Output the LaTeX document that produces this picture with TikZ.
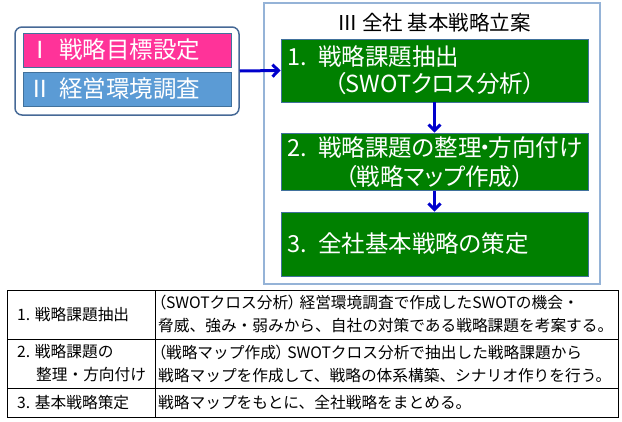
\documentclass[tikz,border=0pt]{standalone}
\usepackage{fontspec}
\setmainfont{Noto Sans CJK JP}
\newfontfamily\pjp{Noto Sans CJK JP}[CharacterWidth=AlternateProportional]
\usetikzlibrary{arrows.meta}
\definecolor{pinkfill}{RGB}{255,51,153}
\definecolor{bluefill}{RGB}{91,155,213}
\definecolor{greenfill}{RGB}{0,128,0}
\definecolor{boxline}{RGB}{65,113,156}
\definecolor{outerline}{RGB}{70,105,150}
\definecolor{frameline}{RGB}{149,179,215}
\definecolor{arrowblue}{RGB}{0,0,204}
\newcommand{\tightdot}{\hspace{-2.5pt}・\hspace{-2.5pt}}
\begin{document}
\begin{tikzpicture}[x=1pt,y=-1pt,
  inputbox/.style={draw=boxline,line width=0.8pt,minimum width=208pt,minimum height=34pt,
    text width=198pt,inner xsep=5pt,align=left,text=white,font=\pjp\fontsize{23.5}{26}\selectfont},
  greenbox/.style={draw=boxline,line width=0.8pt,fill=greenfill,minimum width=307pt,
    text width=299pt,inner xsep=4pt,align=left,text=white},
  flow/.style={draw=arrowblue,line width=3pt,-{Straight Barb[length=6pt,width=12pt]}},
  cell/.style={anchor=west,inner sep=0pt,align=left,font=\fontsize{15.7}{23}\selectfont}]
\useasboundingbox (0,0) rectangle (622,421);

% left group
\node[draw=outerline,line width=1.5pt,rounded corners=7pt,minimum width=224pt,minimum height=88pt] (inbox) at (127,71) {};
\node[inputbox,fill=pinkfill] (goal) at (127,50) {Ⅰ 戦略目標設定};
\node[inputbox,fill=bluefill] (env) at (127,89) {Ⅱ 経営環境調査};

% frame III
\node[draw=frameline,line width=1.2pt,minimum width=336pt,minimum height=281pt] (frame) at (432,143.5) {};
\node[font=\pjp\fontsize{20.5}{24}\selectfont] (title) at (434,23) {Ⅲ 全社 基本戦略立案};

\node[greenbox,minimum height=63pt,font=\pjp\fontsize{23.5}{27}\selectfont] (g1) at (434.5,70.5)
  {\mbox{\hspace*{2pt}1. 戦略課題抽出}\\\hfill（SWOTクロス分析）\hfill\null};
\node[greenbox,minimum height=54pt,font=\pjp\fontsize{23.5}{29}\selectfont] (g2) at (434.5,162)
  {\mbox{\hspace*{2pt}2. 戦略課題の整理\tightdot 方向付け}\\\hfill（戦略マップ作成）\hfill\null};
\node[greenbox,minimum height=64pt,font=\pjp\fontsize{23.5}{27}\selectfont] (g3) at (434.5,244)
  {\mbox{\hspace*{2pt}3. 全社基本戦略の策定}};

\draw[flow] (inbox.east) -- (g1.west);
\draw[flow] (g1.south) -- (g2.north);
\draw[flow] (g2.south) -- (g3.north);

% table
\draw[line width=0.8pt] (7,290) rectangle (618,417);
\draw[line width=0.8pt] (155,290) -- (155,417);
\draw[line width=0.8pt] (7,339) -- (618,339);
\draw[line width=0.8pt] (7,388) -- (618,388);

\node[cell] (r1a) at (17,315) {1. 戦略課題抽出};
\node[cell] (r2a) at (17,363.5) {2. 戦略課題の\\\hspace*{19pt}整理・方向付け};
\node[cell] (r3a) at (17,403) {3. 基本戦略策定};
\node[cell] (r1b) at (158,314) {{\pjp（}SWOTクロス分析{\pjp）} 経営環境調査で作成したSWOTの機会・\\脅威、強み・弱みから、自社の対策である戦略課題を考案する。};
\node[cell] (r2b) at (158,363.5) {{\pjp（}戦略マップ作成{\pjp）} SWOTクロス分析で抽出した戦略課題から\\戦略マップを作成して、戦略の体系構築、シナリオ作りを行う。};
\node[cell] (r3b) at (158,403) {戦略マップをもとに、全社戦略をまとめる。};
\end{tikzpicture}
\end{document}
